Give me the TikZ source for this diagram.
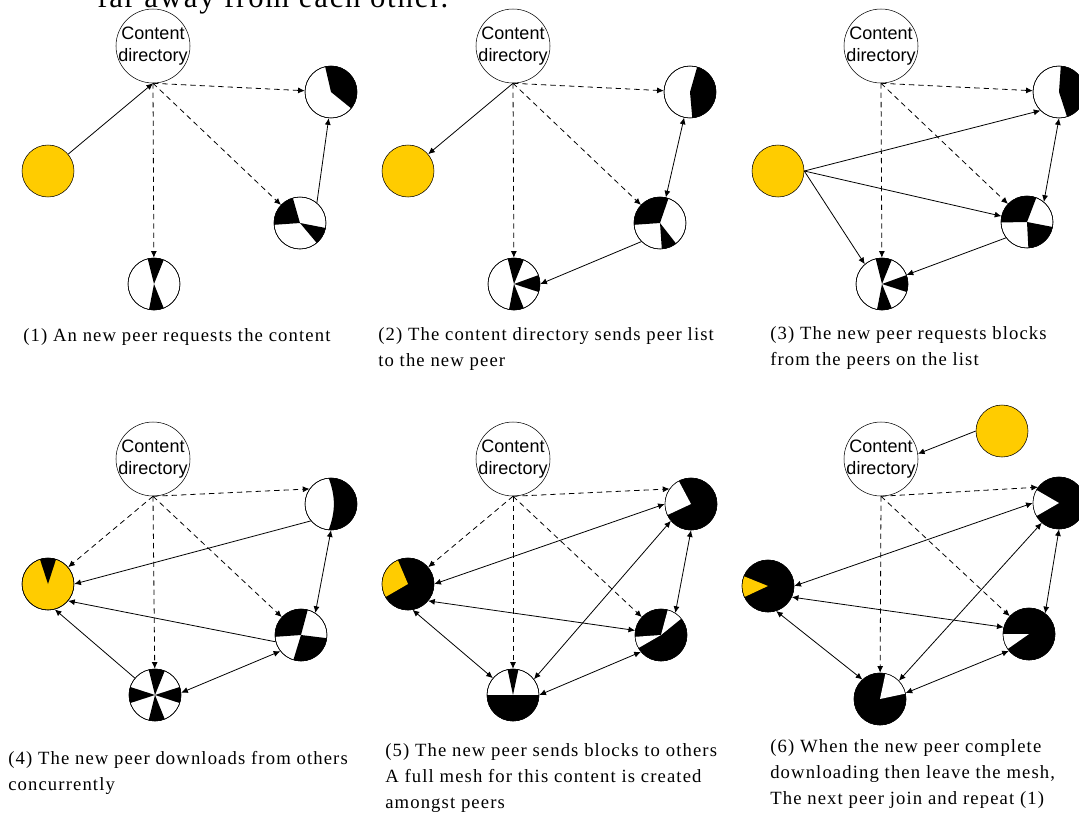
\documentclass[tikz,border=0pt]{standalone}
\usepackage{fontspec}
\setmainfont{Liberation Serif}
\newfontfamily\capfont[LetterSpace=6]{Liberation Serif}
\newfontfamily\dirfont{Liberation Sans}
\usetikzlibrary{arrows.meta}

\definecolor{peergold}{HTML}{FFCC00}

\tikzset{
  directory/.style={circle, draw, minimum size=55.5pt, inner sep=-2.5pt, align=center,
    font=\dirfont\fontsize{13.5pt}{16.5pt}\selectfont},
  peer/.style={circle, draw, minimum size=39pt, inner sep=0pt},
  newpeer/.style={peer, fill=peergold},
  fullpeer/.style={peer, fill=black},
  caption/.style={anchor=base west, align=left, inner sep=0pt,
    font=\capfont\fontsize{14pt}{19.5pt}\selectfont},
  send/.style={line width=0.6pt, -{Latex[length=5pt,width=4.5pt]}},
  swap/.style={line width=0.6pt, {Latex[length=5pt,width=4.5pt]}-{Latex[length=5pt,width=4.5pt]}},
  list/.style={send, dash pattern=on 4pt off 3pt},
}

% slices of a peer: node, colour, list of start/end angles
\newcommand{\blocks}[3]{%
  \foreach \p/\q in {#3}
    \fill[#2] (#1.center) -- ++(\p:19.5pt) arc[start angle=\p, end angle=\q, radius=19.5pt] -- cycle;
  \draw (#1.center) circle[radius=19.5pt];}

\begin{document}
\begin{tikzpicture}[x=0.75pt, y=-0.75pt]

  \useasboundingbox (0,0) rectangle (1079,815);
  \clip (0,0) rectangle (1079,815);

  % cut off heading
  \node[anchor=base west, inner sep=0pt, font=\capfont\fontsize{23pt}{23pt}\selectfont] (head) at (97,7) {far away from each other.};

  %%% (1) request
  \node[directory] (p1dir) at (153,46) {Content\\directory};
  \node[newpeer] (p1new) at (48,171) {};
  \node[peer] (p1a) at (331,92) {};
  \node[peer] (p1b) at (300,223) {};
  \node[peer] (p1c) at (154,284) {};
  \blocks{p1a}{black}{-39/103}
  \blocks{p1b}{black}{106/184,-50/-11}
  \blocks{p1c}{black}{68/104,-101/-68}

  \draw[send] (p1new) -- (p1dir.south);
  \foreach \t in {p1a,p1b,p1c}
      \draw[list] (p1dir.south) -- (\t);
  \draw[send] (p1b.50) -- (p1a.265);
  \node[caption] (cap1) at (23,341) {(1) An new peer requests the content};

  %%% (2) peer list
  \node[directory] (p2dir) at (513,46) {Content\\directory};
  \node[newpeer] (p2new) at (408,171) {};
  \node[peer] (p2a) at (690,92) {};
  \node[peer] (p2b) at (660,223) {};
  \node[peer] (p2c) at (514,284) {};
  \blocks{p2a}{black}{-85/74}
  \blocks{p2b}{black}{71/184,-86/-52}
  \blocks{p2c}{black}{68/104,-18/20,-101/-68}

  \draw[send] (p2dir.south) -- (p2new);
  \foreach \t in {p2a,p2b,p2c}
      \draw[list] (p2dir.south) -- (\t);
  \draw[swap] (p2a) -- (p2b);
  \draw[send] (p2b.225) -- (p2c.east);
  \node[caption] (cap2) at (378,366) {(2) The content directory sends peer list\\to the new peer};

  %%% (3) block requests
  \node[directory] (p3dir) at (881,46) {Content\\directory};
  \node[newpeer] (p3new) at (778,171) {};
  \node[peer] (p3a) at (1059,92) {};
  \node[peer] (p3b) at (1027,222) {};
  \node[peer] (p3c) at (882,284) {};
  \blocks{p3a}{black}{-72/86}
  \blocks{p3b}{black}{69/181,-87/-11}
  \blocks{p3c}{black}{68/104,-18/20,-101/-68}

  \foreach \t in {p3a,p3b,p3c}
      \draw[list] (p3dir.south) -- (\t);
  \draw[send] (p3new.east) -- (p3a.225);
  \draw[send] (p3new.east) -- (p3b);
  \draw[send] (p3new.east) -- (p3c.131);
  \draw[swap] (p3a.south) -- (p3b.50);
  \draw[send] (p3b.217) -- (p3c);
  \node[caption] (cap3) at (770,365) {(3) The new peer requests blocks\\from the peers on the list};

  %%% (4) downloads
  \node[directory] (p4dir) at (153,459) {Content\\directory};
  \node[newpeer] (p4new) at (48,584) {};
  \node[peer] (p4a) at (331,504) {};
  \node[peer] (p4b) at (301,635) {};
  \node[peer] (p4c) at (155,695) {};
  \fill (p4a.center) ++(-95:19.5pt) arc[start angle=-95, end angle=95, radius=19.5pt]
      .. controls +(-70:15pt) and +(70:15pt) .. ([shift={(-95:19.5pt)}]p4a.center) -- cycle;
  \draw (p4a.center) circle[radius=19.5pt];
  \blocks{p4b}{black}{75/184,-107/-7}
  \blocks{p4c}{black}{68/104,-18/18,-104/-68,162/198}
  \blocks{p4new}{black}{72/108}

  \foreach \t in {p4new,p4b,p4c}
      \draw[list] (p4dir.south) -- (\t);
  \draw[list] (p4dir.south) -- (p4a.145);
  \draw[send] (p4a.220) -- (p4new.east);
  \draw[send] (p4b.195) -- (p4new.-40);
  \draw[send] (p4c.140) -- (p4new.-75);
  \draw[swap] (p4a.south) -- (p4b.57);
  \draw[swap] (p4c.5) -- (p4b.218);
  \node[caption] (cap4) at (8,790) {(4) The new peer downloads from others\\concurrently};

  %%% (5) full mesh
  \node[directory] (p5dir) at (513,459) {Content\\directory};
  \node[fullpeer] (p5new) at (408,584) {};
  \node[fullpeer] (p5a) at (691,504) {};
  \node[fullpeer] (p5b) at (661,635) {};
  \node[peer] (p5c) at (513,695) {};
  \blocks{p5new}{peergold}{113/210}
  \blocks{p5a}{white}{118/205}
  \blocks{p5b}{white}{39/75,184/210}
  \blocks{p5c}{black}{180/360,78/102}

  \foreach \t in {p5new,p5b,p5c}
      \draw[list] (p5dir.south) -- (\t);
  \draw[list] (p5dir.south) -- (p5a.145);
  \draw[swap] (p5new.east) -- (p5a.west);
  \draw[swap] (p5new.-40) -- (p5b.170);
  \draw[swap] (p5new.-80) -- (p5c.140);
  \draw[swap] (p5a.south) -- (p5b.57);
  \draw[swap] (p5a.220) -- (p5c.37);
  \draw[swap] (p5b.220) -- (p5c.east);
  \node[caption] (cap5) at (385,808) {(5) The new peer sends blocks to others\\A full mesh for this content is created\\amongst peers};

  %%% (6) leave and repeat
  \node[directory] (p6dir) at (881,459) {Content\\directory};
  \node[newpeer] (p6next) at (1002,431) {};
  \node[fullpeer] (p6new) at (768,586) {};
  \node[fullpeer] (p6a) at (1059,503) {};
  \node[fullpeer] (p6b) at (1029,634) {};
  \node[fullpeer] (p6c) at (880,699) {};
  \blocks{p6new}{peergold}{158/205}
  \blocks{p6a}{white}{150/210}
  \blocks{p6b}{white}{180/215}
  \blocks{p6c}{white}{12/78}

  \draw[send] (p6next.west) -- (p6dir.8);
  \foreach \t in {p6b,p6c}
      \draw[list] (p6dir.south) -- (\t);
  \draw[list] (p6dir.south) -- (p6a.143);
  \draw[swap] (p6new.east) -- (p6a.west);
  \draw[swap] (p6new.-25) -- (p6b.165);
  \draw[swap] (p6new.-72) -- (p6c.132);
  \draw[swap] (p6a.south) -- (p6b.52);
  \draw[swap] (p6a.229) -- (p6c.44);
  \draw[swap] (p6b.220) -- (p6c.13);
  \node[caption] (cap6) at (770,804) {(6) When the new peer complete\\downloading then leave the mesh,\\The next peer join and repeat (1)};

\end{tikzpicture}
\end{document}
